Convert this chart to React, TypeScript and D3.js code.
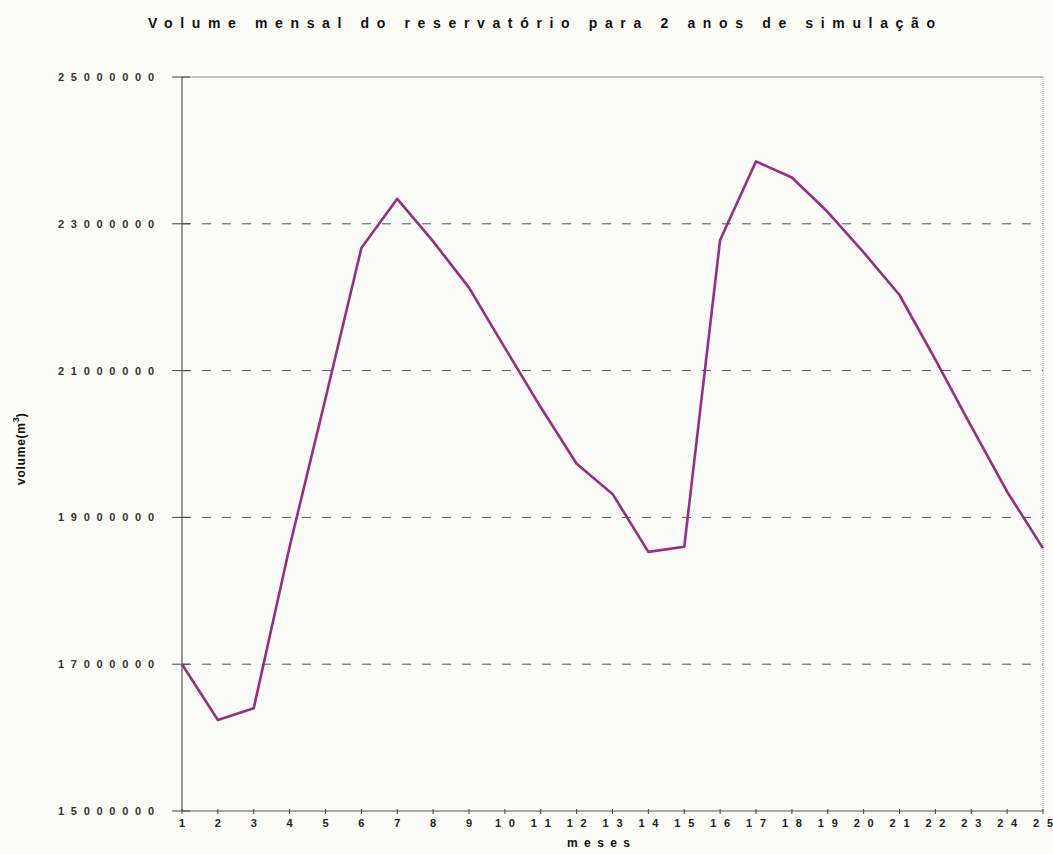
import React from "react";
import * as d3 from "d3";

// Monthly reservoir volume (m³) over a 2-year simulation, months 1..25
const months: number[] = [
  1, 2, 3, 4, 5, 6, 7, 8, 9, 10, 11, 12, 13, 14, 15, 16, 17, 18, 19, 20, 21, 22, 23, 24, 25,
];
const volumes: number[] = [
  17000000, 16240000, 16400000, 18600000, 20620000, 22670000, 23340000, 22760000,
  22130000, 21310000, 20500000, 19730000, 19320000, 18530000, 18600000, 22780000,
  23850000, 23630000, 23160000, 22610000, 22030000, 21150000, 20240000, 19350000,
  18580000,
];
const yTicks: number[] = [15000000, 17000000, 19000000, 21000000, 23000000, 25000000];

const titleText = "Volume mensal do reservatório para 2 anos de simulação";
const xTitle = "meses";
const yTitle = "volume(m";

const W = 1053;
const H = 854;
const left = 182;
const right = 1043;
const top = 77;
const bottom = 811;

const font = "'Liberation Sans', Arial, sans-serif";

export default function App() {
  const x = d3.scaleLinear().domain([1, 25]).range([left, right]);
  const y = d3.scaleLinear().domain([15000000, 25000000]).range([bottom, top]);

  const line = d3
    .line<number>()
    .x((_, i) => x(months[i]))
    .y((d) => y(d));

  const fmt = d3.format("d");

  return (
    <svg
      width={W}
      height={H}
      style={{ position: "absolute", left: 0, top: 0, display: "block" }}
    >
      <rect x={0} y={0} width={W} height={H} fill="#fbfbf7" />

      {/* title */}
      <text
        x={148}
        y={28}
        textLength={787}
        lengthAdjust="spacing"
        fontFamily={font}
        fontWeight="bold"
        fontSize={14}
        fill="#111"
      >
        {titleText}
      </text>

      {/* frame: top and right borders */}
      <line x1={left} x2={right} y1={top} y2={top} stroke="#8a8a8a" strokeWidth={1} />
      <line
        x1={right}
        x2={right}
        y1={top}
        y2={bottom}
        stroke="#9a9a9a"
        strokeWidth={1}
        strokeDasharray="1 1"
      />

      {/* horizontal dashed grid */}
      {yTicks
        .filter((t) => t !== 15000000 && t !== 25000000)
        .map((t) => (
          <line
            key={"g" + t}
            x1={left}
            x2={right}
            y1={y(t)}
            y2={y(t)}
            stroke="#555"
            strokeWidth={1}
            strokeDasharray="9 11"
          />
        ))}

      {/* y axis */}
      <line x1={left} x2={left} y1={top} y2={bottom} stroke="#555" strokeWidth={1.2} />
      {yTicks.map((t) => (
        <g key={"y" + t}>
          <line x1={left - 10} x2={left + 8} y1={y(t)} y2={y(t)} stroke="#444" strokeWidth={1} />
          <text
            x={58}
            y={y(t) + 4}
            textLength={96}
            lengthAdjust="spacing"
            fontFamily={font}
            fontWeight="bold"
            fontSize={11}
            fill="#333"
          >
            {fmt(t)}
          </text>
        </g>
      ))}

      {/* x axis */}
      <line x1={left} x2={right} y1={bottom} y2={bottom} stroke="#555" strokeWidth={1.2} />
      {months.map((m) => {
        const label = String(m);
        const two = label.length > 1;
        return (
          <g key={"x" + m}>
            <line x1={x(m)} x2={x(m)} y1={bottom - 2} y2={bottom + 3} stroke="#444" strokeWidth={1} />
            <text
              x={two ? x(m) - 10 : x(m)}
              y={bottom + 16}
              textAnchor={two ? "start" : "middle"}
              textLength={two ? 20 : undefined}
              lengthAdjust="spacing"
              fontFamily={font}
              fontWeight="bold"
              fontSize={11}
              fill="#222"
            >
              {label}
            </text>
          </g>
        );
      })}

      {/* axis titles */}
      <text
        x={567}
        y={847}
        textLength={63}
        lengthAdjust="spacing"
        fontFamily={font}
        fontWeight="bold"
        fontSize={12}
        fill="#111"
      >
        {xTitle}
      </text>
      <text
        transform="translate(25,485) rotate(-90)"
        fontFamily={font}
        fontWeight="bold"
        fontSize={12}
        fill="#111"
      >
        <tspan textLength={62} lengthAdjust="spacing">
          {yTitle}
        </tspan>
        <tspan dy={-6} fontSize={9}>
          3
        </tspan>
        <tspan dy={6}>)</tspan>
      </text>

      {/* volume series */}
      <path
        d={line(volumes) || ""}
        fill="none"
        stroke="#9a2b86"
        strokeWidth={2.6}
        strokeLinejoin="round"
      />
    </svg>
  );
}
